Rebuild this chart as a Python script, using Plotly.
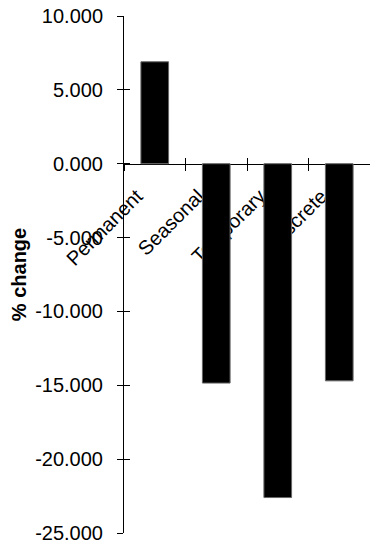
import plotly.graph_objects as go

# Percentage change by employment type
categories = ["Permanent", "Seasonal", "Temporary", "Discrete"]
pct_change = [6.9, -14.85, -22.6, -14.7]

y_min, y_max = -25, 10
y_ticks = [10, 5, 0, -5, -10, -15, -20, -25]
y_ticktext = [f"{v:.3f}" for v in y_ticks]  # plain hyphen-minus, three decimals

FONT = "Liberation Sans, Arial, sans-serif"
FS = 20

fig = go.Figure()

fig.add_trace(go.Bar(
    x=categories,
    y=pct_change,
    marker=dict(color="black", line=dict(color="#666666", width=1)),
    showlegend=False,
    hoverinfo="x+y",
))

# companion trace on the overlay axes (carries the inward half of each tick)
fig.add_trace(go.Scatter(
    x=categories,
    y=pct_change,
    xaxis="x2",
    yaxis="y2",
    mode="markers",
    marker=dict(opacity=0),
    showlegend=False,
    hoverinfo="skip",
))

zero_pos = (0 - y_min) / (y_max - y_min)

common_x = dict(
    type="category",
    categoryorder="array",
    categoryarray=categories,
    range=[-0.5, 3.5],
    anchor="free",
    position=zero_pos,
    showgrid=False,
    zeroline=False,
    tickson="boundaries",
    ticklen=6,
    tickcolor="black",
    tickwidth=1,
    automargin=False,
)

common_y = dict(
    range=[y_min, y_max],
    tickvals=y_ticks,
    showgrid=False,
    zeroline=False,
    ticklen=6,
    tickcolor="black",
    tickwidth=1,
    automargin=False,
)

fig.update_layout(
    width=370,
    height=542,
    margin=dict(l=124, r=0, t=16, b=9),
    paper_bgcolor="white",
    plot_bgcolor="white",
    font=dict(family=FONT, size=FS, color="black"),
    bargap=0.55,
    xaxis=dict(
        **common_x,
        ticks="outside",
        showline=True,
        linecolor="black",
        linewidth=1,
        tickangle=-45,
        tickfont=dict(family=FONT, size=FS, color="black"),
        ticklabelshift=-18,
        ticklabelstandoff=12,
        ticklabeloverflow="allow",
        layer="below traces",
    ),
    xaxis2=dict(
        **common_x,
        overlaying="x",
        ticks="inside",
        showline=False,
        showticklabels=False,
    ),
    yaxis=dict(
        **common_y,
        ticktext=y_ticktext,
        ticks="outside",
        showline=True,
        linecolor="black",
        linewidth=1,
        tickfont=dict(family=FONT, size=FS, color="black"),
        ticklabelstandoff=10,
        ticklabeloverflow="allow",
        title=dict(
            text="<b>% change</b>",
            font=dict(family=FONT, size=FS, color="black"),
            standoff=3,
        ),
    ),
    yaxis2=dict(
        **common_y,
        overlaying="y",
        anchor="x2",
        side="left",
        ticks="inside",
        showline=False,
        showticklabels=False,
    ),
)

fig.write_html("out.html")
